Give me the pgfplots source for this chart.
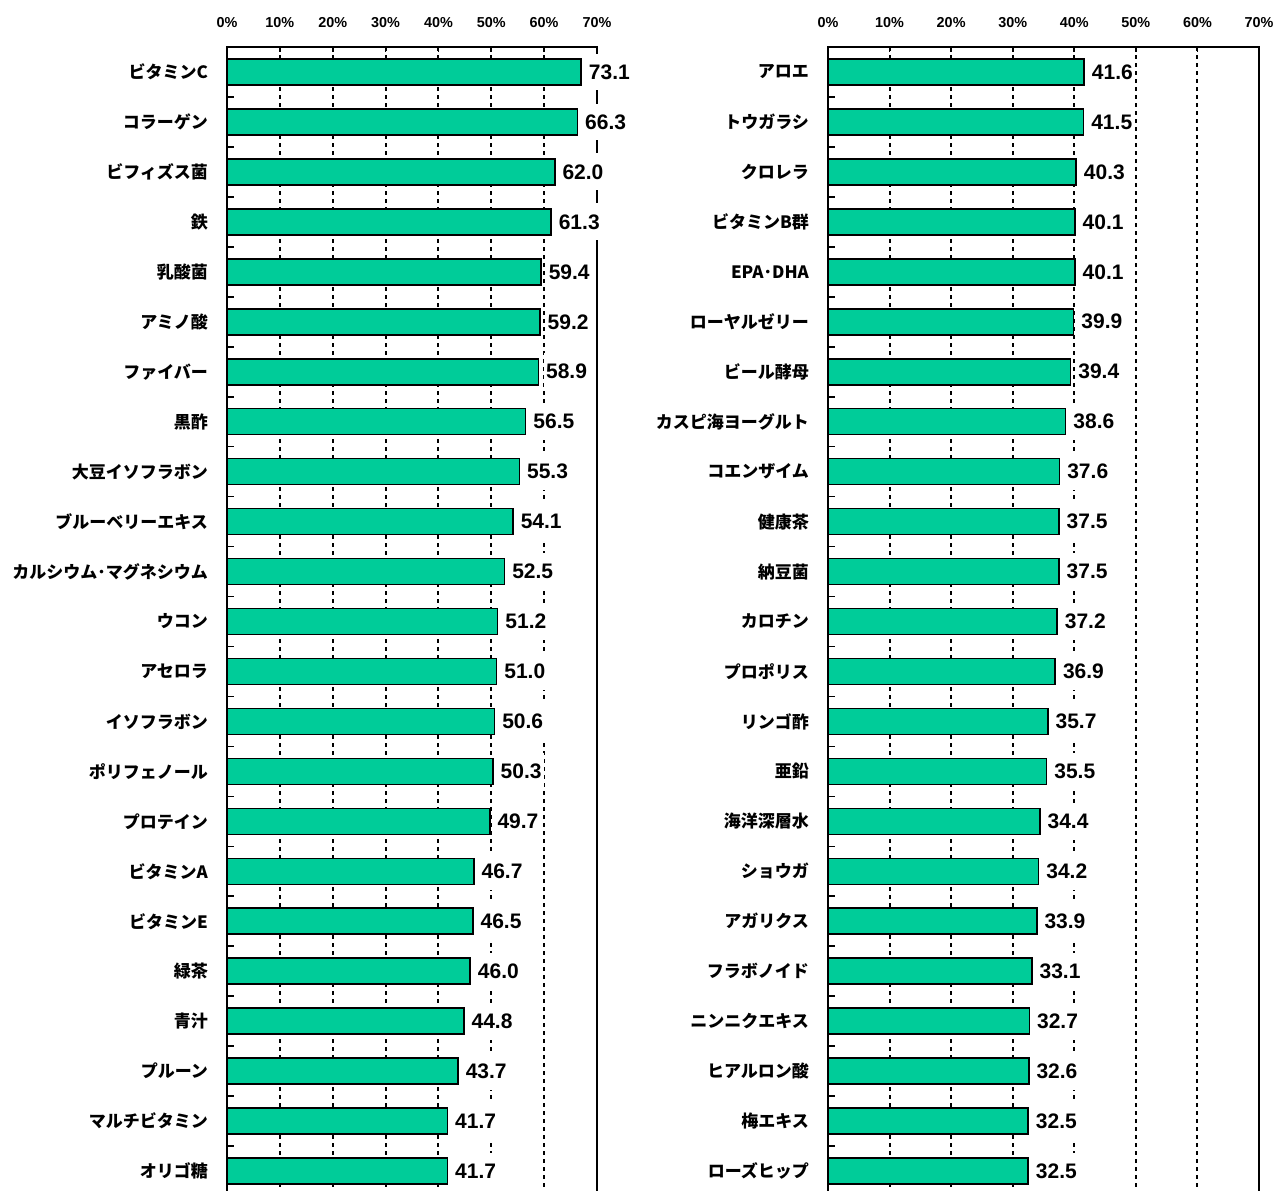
\documentclass[border=0pt]{standalone}
\usepackage{fontspec}
\usepackage{pgfplots}
\usepackage{pgfplotstable}
\pgfplotsset{compat=1.18}
\newfontfamily\jpfont{Noto Sans CJK JP}
\newfontfamily\lsans{Liberation Sans}
\definecolor{barc}{HTML}{00CC99}

\pgfplotstableread{
y x lab
1 67.0 73.1
2 66.3 66.3
3 62.0 62.0
4 61.3 61.3
5 59.4 59.4
6 59.2 59.2
7 58.9 58.9
8 56.5 56.5
9 55.3 55.3
10 54.1 54.1
11 52.5 52.5
12 51.2 51.2
13 51.0 51.0
14 50.6 50.6
15 50.3 50.3
16 49.7 49.7
17 46.7 46.7
18 46.5 46.5
19 46.0 46.0
20 44.8 44.8
21 43.7 43.7
22 41.7 41.7
23 41.7 41.7
}\leftdata

\pgfplotstableread{
y x lab
1 41.6 41.6
2 41.5 41.5
3 40.3 40.3
4 40.1 40.1
5 40.1 40.1
6 39.9 39.9
7 39.4 39.4
8 38.6 38.6
9 37.6 37.6
10 37.5 37.5
11 37.5 37.5
12 37.2 37.2
13 36.9 36.9
14 35.7 35.7
15 35.5 35.5
16 34.4 34.4
17 34.2 34.2
18 33.9 33.9
19 33.1 33.1
20 32.7 32.7
21 32.6 32.6
22 32.5 32.5
23 32.5 32.5
}\rightdata

\pgfplotsset{panel/.style={
  xbar, scale only axis, height=574.5pt,
  y dir=reverse, ymin=0.5, ymax=23.5, xmin=0, xmax=70,
  xtick={0,10,...,70}, xtick pos=right, xticklabel pos=right,
  /pgf/number format/assume math mode=true,
  xticklabel={\pgfmathprintnumber{\tick}\%},
  xticklabel style={font=\lsans\bfseries\fontsize{7.2}{8}\selectfont, yshift=6pt},
  tick align=inside, major tick length=2.5pt, minor tick length=3.5pt,
  ytick={1,...,23}, ytick pos=left,
  major y tick style={draw=none},
  minor ytick={1.5,2.5,...,22.5},
  yticklabel style={font=\jpfont\bfseries\fontsize{8.5}{10}\selectfont, xshift=-6pt},
  xmajorgrids,
  major x grid style={black, line width=1pt, dash pattern=on 2pt off 2pt},
  axis line style={black, line width=0.8pt},
  tick style={black, line width=0.8pt},
  bar width=13pt,
  point meta=explicit symbolic,
  nodes near coords,
  nodes near coords style={anchor=west, fill=white, inner xsep=1pt, inner ysep=5.5pt,
    xshift=2.5pt, font=\lsans\bfseries\fontsize{10.5}{12}\selectfont, text=black},
}}

\begin{document}
\begin{tikzpicture}
\useasboundingbox (0,0) rectangle (637pt,-595pt);
\begin{axis}[panel, width=185pt, at={(113.5pt,-23.5pt)}, anchor=north west,
  yticklabels={ビタミンC,コラーゲン,ビフィズス菌,鉄,乳酸菌,アミノ酸,ファイバー,黒酢,大豆イソフラボン,ブルーベリーエキス,カルシウム･マグネシウム,ウコン,アセロラ,イソフラボン,ポリフェノール,プロテイン,ビタミンA,ビタミンE,緑茶,青汁,プルーン,マルチビタミン,オリゴ糖}]
\addplot[fill=barc, draw=black, line width=0.8pt] table[x=x, y=y, meta=lab] {\leftdata};
\end{axis}
\begin{axis}[panel, width=215.5pt, at={(414pt,-23.5pt)}, anchor=north west,
  yticklabels={アロエ,トウガラシ,クロレラ,ビタミンB群,EPA･DHA,ローヤルゼリー,ビール酵母,カスピ海ヨーグルト,コエンザイム,健康茶,納豆菌,カロチン,プロポリス,リンゴ酢,亜鉛,海洋深層水,ショウガ,アガリクス,フラボノイド,ニンニクエキス,ヒアルロン酸,梅エキス,ローズヒップ}]
\addplot[fill=barc, draw=black, line width=0.8pt] table[x=x, y=y, meta=lab] {\rightdata};
\end{axis}
\end{tikzpicture}
\end{document}
